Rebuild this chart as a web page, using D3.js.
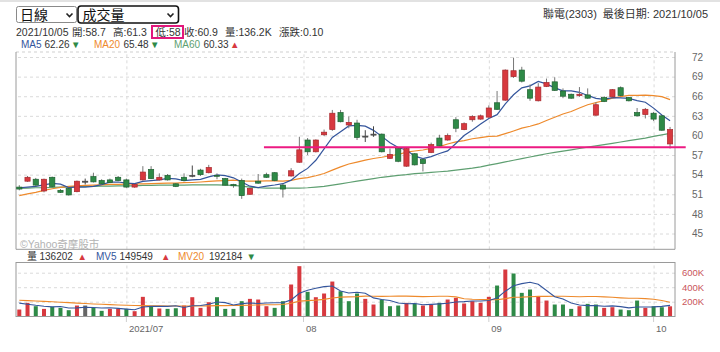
<!DOCTYPE html>
<html><head><meta charset="utf-8">
<script src="https://cdn.jsdelivr.net/npm/d3@7"></script>
<style>body{margin:0;background:#fff;}</style>
</head><body>
<svg id="c" width="720" height="352"></svg>
<script>
// ---- data ----
const opens  = [52.1,53.0,53.3,51.5,53.6,51.6,51.9,51.4,53.0,53.7, 53.1,53.2,53.6,53.2,52.1,53.2,54.8,53.2,53.9,52.6,
                53.6,53.9,54.7,54.3,53.9,53.4,52.5,53.1,51.0,53.0, 54.0,54.3,52.4,53.8,55.9,59.3,57.5,60.1,60.9,63.5,
                61.6,61.9,59.9,60.2,60.2,56.5,58.0,55.3,57.2,56.3, 57.4,59.6,59.3,62.4,60.9,62.4,62.5,62.8,65.0,65.4,
                69.0,70.0,67.0,65.3,67.5,68.2,66.8,66.3,66.1,66.2, 63.1,65.8,65.9,67.3,65.8,63.5,63.2,63.4,63.0,58.7];
const highs  = [52.4,53.8,53.5,53.4,53.7,51.8,52.0,53.1,53.4,54.3, 53.3,53.4,53.8,53.4,52.6,55.3,55.3,54.2,54.1,52.7,
                54.2,55.4,54.9,55.5,54.2,53.5,52.6,53.4,52.0,54.1, 54.3,54.4,52.6,55.0,59.8,59.6,59.4,60.9,63.9,63.9,
                62.9,62.4,60.8,61.4,60.3,58.0,58.1,58.2,57.3,56.5, 58.9,60.1,60.3,62.8,62.0,63.1,63.2,64.6,66.8,70.1,
                71.9,70.5,67.8,68.0,68.7,68.9,67.2,66.4,67.4,67.2, 65.1,66.0,67.1,67.5,65.9,64.2,64.2,63.6,63.1,61.3];
const lows   = [51.6,52.9,52.3,51.3,52.1,51.2,50.8,51.3,52.5,52.8, 52.5,52.7,53.0,52.0,52.0,53.1,53.3,53.1,53.1,52.1,
                53.0,53.6,53.8,54.2,53.3,52.3,52.0,50.3,50.9,52.6, 53.5,53.0,50.5,53.7,55.8,57.0,57.4,59.9,60.7,62.0,
                61.1,59.3,59.0,59.8,57.4,56.4,55.9,55.2,55.4,54.5, 57.3,58.3,59.2,60.5,60.8,62.1,62.4,62.7,63.9,65.3,
                68.8,68.1,65.3,65.2,67.4,66.8,65.7,65.6,65.9,65.6, 63.0,65.1,65.8,66.0,65.2,62.9,62.6,62.2,60.7,58.0];
const closes = [51.8,53.6,52.4,53.3,52.2,51.3,50.9,53.0,53.0,52.9, 52.6,52.8,53.1,52.1,52.5,54.4,53.4,53.6,53.2,52.2,
                53.1,53.9,54.0,55.1,53.8,52.4,52.3,50.8,51.9,52.7, 53.6,53.1,51.8,54.6,57.8,57.5,59.3,60.5,63.4,62.1,
                62.0,59.7,59.9,60.2,57.5,57.1,56.05,58.0,55.5,55.7, 58.6,58.4,60.0,61.1,61.8,62.9,63.0,64.2,64.0,70.0,
                69.9,68.3,65.7,67.4,68.1,66.9,66.0,65.7,66.3,65.7, 64.7,65.2,67.0,66.1,65.3,63.0,64.0,62.5,60.8,60.9];
const priorClose = 51.5;
// volume in thousands of shares
const volumes = [92,184,138,101,129,115,83,147,147,115, 74,101,101,101,69,267,138,106,101,110,
                 147,262,115,193,262,101,101,207,239,230, 138,115,207,437,690,336,262,313,478,345,
                 207,313,239,161,230,138,147,184,175,147, 161,184,230,253,175,207,184,267,423,644,
                 589,322,368,276,216,161,161,101,138,170, 161,115,124,92,83,216,115,138,124,136.202];
const ma5  = [52.0,52.1,52.2,52.45,52.66,52.56,52.02,52.14,52.08,52.22, 52.48,52.86,52.88,52.70,52.62,52.98,53.10,53.20,53.42,53.36,
              53.10,53.20,53.28,53.66,53.98,53.84,53.52,52.88,52.24,52.02, 52.26,52.42,52.62,53.16,54.18,54.96,56.20,57.94,59.70,60.56,
              61.46,61.54,61.42,60.78,59.86,58.88,58.15,57.77,56.83,56.47, 56.77,57.24,57.64,58.76,59.98,60.84,61.76,62.60,63.18,64.82,
              66.22,67.28,67.58,68.26,67.88,67.28,66.82,66.82,66.60,66.12, 65.68,65.52,65.78,65.74,65.66,65.32,65.08,64.18,63.12,62.26];
const ma20 = [50.8,51.05,51.3,51.6,51.85,52.05,52.2,52.3,52.35,52.4, 52.45,52.5,52.52,52.55,52.58,52.6,52.63,52.66,52.7,52.72,
              52.78,52.80,52.88,52.97,53.05,53.10,53.17,53.06,53.01,53.00, 53.05,53.06,53.00,53.12,53.39,53.54,53.84,54.18,54.69,55.19,
              55.63,55.92,56.22,56.47,56.66,56.89,57.08,57.44,57.62,57.77, 58.02,58.28,58.69,59.02,59.22,59.49,59.67,59.86,59.89,60.28,
              60.68,61.11,61.40,61.76,62.29,62.78,63.28,63.66,64.20,64.70, 65.01,65.35,65.70,65.95,66.12,66.13,66.18,66.09,65.93,65.48];
const ma60 = [51.9,51.95,52.0,52.0,52.05,52.1,52.1,52.15,52.2,52.2, 52.25,52.25,52.3,52.3,52.3,52.35,52.35,52.4,52.4,52.4,
              52.4,52.45,52.45,52.45,52.45,52.4,52.35,52.25,52.1,52.0, 51.95,51.95,51.95,51.95,51.95,52.0,52.1,52.2,52.4,52.6,
              52.8,53.0,53.2,53.4,53.6,53.75,53.9,54.0,54.15,54.25, 54.35,54.45,54.55,54.7,54.85,55.0,55.2,55.45,55.7,55.95,
              56.2,56.45,56.7,56.95,57.2,57.4,57.6,57.8,58.0,58.2, 58.4,58.6,58.8,59.0,59.2,59.4,59.6,59.85,60.1,60.33];
const mv5  = [180,165,150,138,129,133,113,115,124,121, 113,117,108,98,89,128,135,136,136,144,
              120,145,147,165,196,187,154,173,182,176, 183,186,186,225,317,357,386,408,416,347,
              321,331,316,253,230,216,183,172,175,158, 163,170,179,195,201,210,210,217,251,345,
              421,449,469,440,354,269,236,183,155,146, 146,137,142,132,115,126,126,129,135,149.549];
const mv20 = [220,215,210,205,199,193,187,181,175,169, 164,159,155,151,148,146,144,142,141,140,
              140,141,141,143,146,146,147,149,152,155, 157,158,162,178,208,215,222,232,250,263,
              267,270,277,276,274,276,279,277,274,270, 271,275,276,266,240,233,230,228,227,242,
              262,263,269,274,274,275,275,271,269,271, 271,266,261,253,247,247,242,233,216,192.184];
const priceTicks = [45,48,51,54,57,60,63,66,69,72];
const volTicks = [200,400,600];
const monthTicks = [13,34.5,57,77];
const monthLabels = ["2021/07","08","09","10"];
const lowMark = {value:58.2, fromIdx:29.7, toIdx:80.9};

// ---- drawing ----
const FONT = '"Liberation Sans","Noto Sans CJK TC",Arial,sans-serif';
const RED="#d7393f", RED_D="#a8272c", GREEN="#2e8a47", GREEN_D="#1e5f30", GRAY="#666";
const C_MA5="#34559c", C_MA20="#ee8a2c", C_MA60="#5e9f71";
const svg = d3.select('#c').style('font-family',FONT);
svg.append('rect').attr('width',720).attr('height',352).attr('fill','#fff');
svg.append('rect').attr('width',720).attr('height',2).attr('fill','#e2e2e2');

const P={top:52,bottom:249.3,left:16,right:675};
const V={top:262.5,bottom:316.5};
const n = closes.length;
const x = d3.scaleLinear().domain([-0.4, n-0.4]).range([P.left,P.right]);
const y = d3.scaleLinear().domain([45,72]).range([233.5,57]);
const yv = d3.scaleLinear().domain([0,600]).range([316.2,272.7]);

function txt(g,xx,yy,s,size,fill,anchor){
  return g.append('text').attr('x',xx).attr('y',yy).attr('font-size',size).attr('fill',fill)
    .attr('text-anchor',anchor||'start').text(s);
}

// header: selects
svg.append('rect').attr('x',16.5).attr('y',6.5).attr('width',60).attr('height',16).attr('rx',2)
  .attr('fill','#fff').attr('stroke','#8a8a8a');
txt(svg,20,20,'日線',14,'#111');
svg.append('path').attr('d','M66.5,13.5 l3,3 l3,-3').attr('fill','none').attr('stroke','#222').attr('stroke-width',1.6);
svg.append('rect').attr('x',78).attr('y',6).attr('width',100.5).attr('height',17).attr('rx',3)
  .attr('fill','#fff').attr('stroke','#111').attr('stroke-width',1.6);
txt(svg,82.5,20,'成交量',14,'#111');
svg.append('path').attr('d','M167.5,13.5 l3,3 l3,-3').attr('fill','none').attr('stroke','#222').attr('stroke-width',1.6);

txt(svg,543,18,'聯電(2303)',11,'#333');
txt(svg,708,18,'最後日期: 2021/10/05',11,'#333','end');

// row 2
const last = n-1;
const chg = (closes[last]-closes[last-1]).toFixed(2);
const F2 = 10.5;
txt(svg,16,36,'2021/10/05',F2,'#333');
txt(svg,72,36,'開:'+opens[last],F2,'#333');
txt(svg,113,36,'高:'+highs[last],F2,'#333');
txt(svg,155.5,36,'低:'+lows[last],F2,'#333');
txt(svg,184,36,'收:'+closes[last],F2,'#333');
txt(svg,225,36,'量:'+volumes[last].toFixed(1)+'K',F2,'#333');
txt(svg,279,36,'漲跌:'+chg,F2,'#333');
svg.append('rect').attr('x',152).attr('y',26).attr('width',31).attr('height',12)
  .attr('fill','none').attr('stroke','#e2187c').attr('stroke-width',2);

// row 3 legend
const F3 = 10, FT = 9.5;
txt(svg,21,47.5,'MA5',F3,C_MA5);
txt(svg,44.5,47.5,ma5[last].toFixed(2),F3,'#333');
txt(svg,71,47.5,'▼',FT,GREEN);
txt(svg,94,47.5,'MA20',F3,C_MA20);
txt(svg,123.5,47.5,ma20[last].toFixed(2),F3,'#333');
txt(svg,150,47.5,'▼',FT,GREEN);
txt(svg,174,47.5,'MA60',F3,C_MA60);
txt(svg,203.5,47.5,ma60[last].toFixed(2),F3,'#333');
txt(svg,230,47.5,'▲',FT,RED);

// price panel grid
const gy = svg.append('g').attr('transform',`translate(${P.right},0)`)
  .call(d3.axisRight(y).tickValues(priceTicks).tickSize(-(P.right-P.left)).tickPadding(17).tickFormat(d3.format('d')));
gy.select('.domain').remove();
gy.selectAll('line').attr('stroke','#dadada').attr('stroke-dasharray','3,3');
gy.selectAll('text').attr('fill','#666').attr('font-size',10).attr('font-family',FONT);

const gx = svg.append('g').attr('transform',`translate(0,${P.bottom})`)
  .call(d3.axisBottom(x).tickValues(monthTicks).tickSize(-(P.bottom-P.top)).tickFormat(''));
gx.select('.domain').remove();
gx.selectAll('line').attr('stroke','#dadada').attr('stroke-dasharray','3,3');

svg.append('line').attr('x1',P.left).attr('x2',P.right).attr('y1',P.top).attr('y2',P.top)
  .attr('stroke','#cfcfcf').attr('stroke-dasharray','3,3');
svg.append('path').attr('d',`M${P.left},${P.top}V${P.bottom}H${P.right}V${P.top}`)
  .attr('fill','none').attr('stroke','#9a9a9a');

txt(svg,20,248,'©Yahoo奇摩股市',10.5,'#b3b3b3');

// MA lines
const line = arr => d3.line().x((d,i)=>x(i)).y(d=>y(d))(arr);
[[ma60,C_MA60],[ma20,C_MA20],[ma5,C_MA5]].forEach(([a,c])=>{
  svg.append('path').attr('d',line(a)).attr('fill','none').attr('stroke',c).attr('stroke-width',1.2);
});

// candles
const idx = d3.range(n);
const cColor = i => closes[i]>opens[i]?RED:(closes[i]<opens[i]?GREEN:GRAY);
const cDark = i => closes[i]>opens[i]?RED_D:(closes[i]<opens[i]?GREEN_D:'#444');
const cg = svg.append('g');
cg.selectAll('line.w').data(idx).join('line')
  .attr('x1',i=>x(i)).attr('x2',i=>x(i)).attr('y1',i=>y(highs[i])).attr('y2',i=>y(lows[i]))
  .attr('stroke',i=>closes[i]===opens[i]?'#444':'#777').attr('stroke-width',1);
cg.selectAll('rect.b').data(idx).join('rect')
  .attr('x',i=>x(i)-2.6).attr('width',5.2)
  .attr('y',i=>y(Math.max(opens[i],closes[i])))
  .attr('height',i=>Math.max(1,Math.abs(y(opens[i])-y(closes[i]))))
  .attr('fill',cColor).attr('stroke',cDark).attr('stroke-width',0.7);

// low marker line
svg.append('line').attr('x1',x(lowMark.fromIdx)).attr('x2',x(lowMark.toIdx))
  .attr('y1',y(lowMark.value)).attr('y2',y(lowMark.value))
  .attr('stroke','#ec1a82').attr('stroke-width',2);

// volume legend
const FV = 10;
txt(svg,27,260,'量',FV,'#333');
txt(svg,39.5,260,String(Math.round(volumes[last]*1000)),FV,'#333');
txt(svg,77.5,260,'▲',FT,RED);
txt(svg,96,260,'MV5',FV,C_MA5);
txt(svg,119.5,260,String(Math.round(mv5[last]*1000)),FV,'#333');
txt(svg,161,260,'▲',FT,RED);
txt(svg,178,260,'MV20',FV,C_MA20);
txt(svg,209,260,String(Math.round(mv20[last]*1000)),FV,'#333');
txt(svg,246.5,260,'▼',FT,GREEN);

// volume panel grid
const gvy = svg.append('g').attr('transform',`translate(${P.right},0)`)
  .call(d3.axisRight(yv).tickValues(volTicks).tickSize(-(P.right-P.left)).tickPadding(7).tickFormat(d=>d+'K'));
gvy.select('.domain').remove();
gvy.selectAll('line').attr('stroke','#dadada').attr('stroke-dasharray','3,3');
gvy.selectAll('text').attr('fill','#c9555b').attr('font-size',9.5).attr('font-family',FONT);

const gvx = svg.append('g').attr('transform',`translate(0,${V.bottom})`)
  .call(d3.axisBottom(x).tickValues(monthTicks).tickSize(-(V.bottom-V.top)).tickFormat((d,i)=>monthLabels[i]));
gvx.select('.domain').remove();
gvx.selectAll('line').attr('stroke','#dadada').attr('stroke-dasharray','3,3');
gvx.selectAll('text').attr('fill','#666').attr('font-size',9.5).attr('font-family',FONT)
  .attr('text-anchor','start').attr('x',2).attr('y',15.5).attr('dy',0);
svg.selectAll('line.mt').data(monthTicks).join('line')
  .attr('x1',d=>x(d)).attr('x2',d=>x(d)).attr('y1',V.bottom).attr('y2',V.bottom+5.5)
  .attr('stroke','#cfcfcf');

// volume bars
const vColor = i => { const p = i===0?priorClose:closes[i-1];
  return closes[i]>p?RED:(closes[i]<p?GREEN:GRAY); };
svg.append('g').selectAll('rect').data(idx).join('rect')
  .attr('x',i=>x(i)-2).attr('width',4)
  .attr('y',i=>yv(volumes[i])).attr('height',i=>yv(0)-yv(volumes[i]))
  .attr('fill',vColor);

const vline = arr => d3.line().x((d,i)=>x(i)).y(d=>yv(d))(arr);
svg.append('path').attr('d',vline(mv20)).attr('fill','none').attr('stroke',C_MA20).attr('stroke-width',1.1);
svg.append('path').attr('d',vline(mv5)).attr('fill','none').attr('stroke',C_MA5).attr('stroke-width',1.1);

svg.append('rect').attr('x',P.left).attr('y',V.top).attr('width',P.right-P.left).attr('height',V.bottom-V.top)
  .attr('fill','none').attr('stroke','#9a9a9a');
</script>
</body></html>
